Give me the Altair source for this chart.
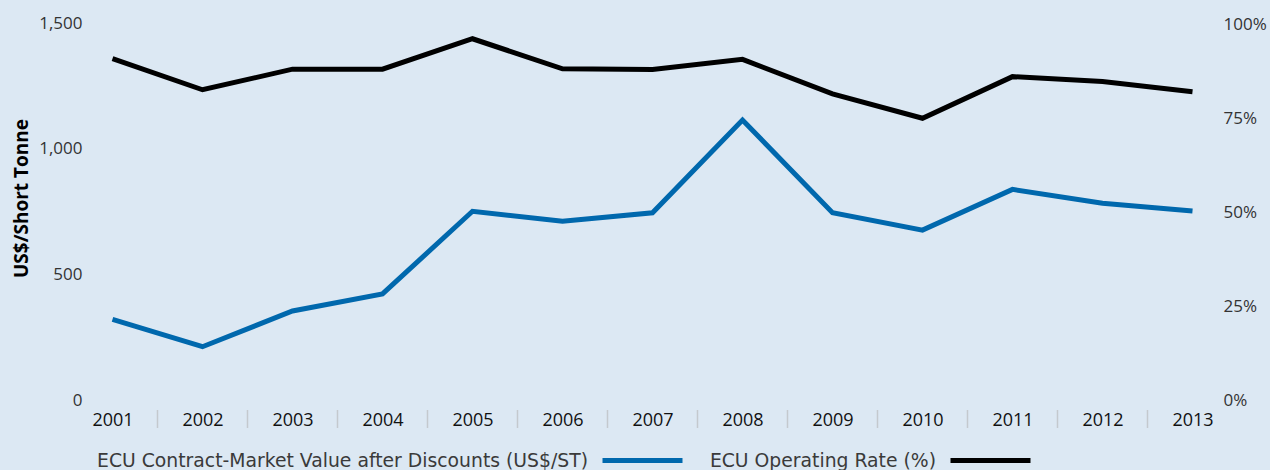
import altair as alt
import pandas as pd

years = list(range(2001, 2014))
contract_value = [321, 212, 354, 422, 751, 711, 745, 1114, 745, 676, 838, 783, 752]
operating_rate = [91.0, 82.7, 88.2, 88.2, 96.3, 88.3, 88.1, 90.8, 81.6, 75.1, 86.2, 84.9, 82.2]
series_names = ["ECU Contract-Market Value after Discounts (US$/ST)", "ECU Operating Rate (%)"]
series_colors = ["#0068ad", "#000000"]
left_ticks = [0, 500, 1000, 1500]
right_ticks = [0, 0.25, 0.5, 0.75, 1.0]

FONT = "Open Sans"
LEGEND_FONT = "DejaVu Sans"

df_value = pd.DataFrame({"year": years, "value": contract_value, "series": series_names[0]})
df_rate = pd.DataFrame({"year": years, "rate": [r / 100 for r in operating_rate], "series": series_names[1]})
df_sep = pd.DataFrame({"year": [y + 0.5 for y in years[:-1]]})

x_scale = alt.Scale(domain=[2000.75, 2013.25], nice=False, zero=False)
x_axis = alt.Axis(values=years, format="d", title=None, ticks=False, domain=False, grid=False,
                  labelFont=FONT, labelFontSize=18, labelColor="#111111", labelPadding=11)


def legend_for(x_pos):
    return alt.Legend(title=None, orient="none", direction="horizontal",
                      legendX=x_pos, legendY=395, padding=0,
                      symbolType="stroke", symbolSize=6400, symbolStrokeWidth=5,
                      labelAlign="right", labelOffset={"expr": "-97"}, labelLimit=0,
                      labelFont=LEGEND_FONT, labelFontSize=18.8, labelColor="#3a3a3a")


blue = alt.Chart(df_value).mark_line(strokeWidth=5).encode(
    x=alt.X("year:Q", scale=x_scale, axis=x_axis),
    y=alt.Y("value:Q", scale=alt.Scale(domain=[0, 1500], nice=False),
            axis=alt.Axis(values=left_ticks, format=",d", orient="left", grid=False, ticks=False, domain=False,
                          title="US$/Short Tonne", titleFont=FONT, titleFontSize=19, titleFontWeight="bold",
                          titleColor="#000000", titlePadding=7, titleY=175,
                          labelFont=FONT, labelFontSize=17, labelColor="#333333", labelPadding=8)),
    color=alt.Color("series:N", scale=alt.Scale(domain=[series_names[0]], range=[series_colors[0]]),
                    legend=legend_for(510)),
)

black = alt.Chart(df_rate).mark_line(strokeWidth=5).encode(
    x=alt.X("year:Q", scale=x_scale, axis=x_axis),
    y=alt.Y("rate:Q", scale=alt.Scale(domain=[0, 1.005], nice=False),
            axis=alt.Axis(values=right_ticks, format=".0%", orient="right", grid=False, ticks=False, domain=False,
                          title=None, labelFont=FONT, labelFontSize=17, labelColor="#333333", labelPadding=8)),
    color=alt.Color("series:N", scale=alt.Scale(domain=[series_names[1]], range=[series_colors[1]]),
                    legend=legend_for(858)),
)

seps = alt.Chart(df_sep).mark_rule(color="#c4c9ce", strokeWidth=1.5).encode(
    x=alt.X("year:Q", scale=x_scale, axis=x_axis),
    y=alt.value(387),
    y2=alt.value(405),
)

chart = alt.layer(seps, blue, black).resolve_scale(y="independent", color="independent").properties(
    width=1125, height=377,
    padding={"left": 90, "top": 23, "right": 55, "bottom": 70},
    autosize=alt.AutoSizeParams(type="none"),
    background="#dce8f3",
).configure_view(stroke=None)

chart.save("out.html", embed_options={"renderer": "svg", "actions": False})
